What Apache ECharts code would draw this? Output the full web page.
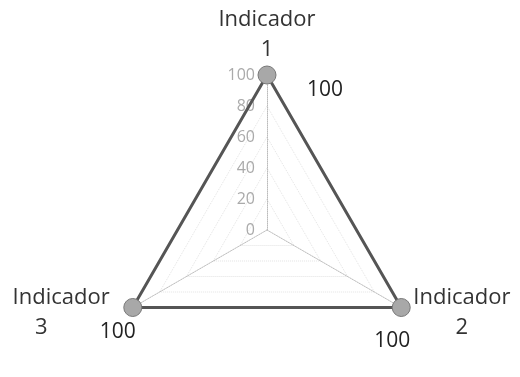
<!DOCTYPE html>
<html>
<head>
<meta charset="UTF-8">
<script src="https://cdn.jsdelivr.net/npm/echarts@6/dist/echarts.min.js"></script>
<style>
  body { margin: 0; background: #fff; }
  #chart { width: 520px; height: 377px; }
</style>
</head>
<body>
<div id="chart"></div>
<script>
  // indicators listed counterclockwise from the top, as the radar lays them out
  const indicators = ['Indicador 1', 'Indicador 3', 'Indicador 2'];
  const maxValue = 100;
  const values = [100, 100, 100];

  const chart = echarts.init(document.getElementById('chart'));
  const font = '"Open Sans", "Noto Sans", sans-serif';

  chart.setOption({
    animation: false,
    radar: {
      center: [267, 230],
      radius: 155,
      startAngle: 90,
      splitNumber: 5,
      shape: 'polygon',
      indicator: indicators.map((name, i) => ({
        name: name,
        min: 0,
        max: maxValue,
        axisLabel: { show: i === 0 }
      })),
      axisName: {
        color: '#333',
        fontFamily: font,
        fontSize: 22,
        formatter: function (name) {
          const parts = name.split(' ');
          const numStyle = parts[1] === '3' ? 'l' : 'n';
          return '{n|' + parts[0] + '}\n{' + numStyle + '|' + parts[1] + '}';
        },
        rich: {
          n: { width: 104, align: 'center', fontSize: 22, lineHeight: 30, color: '#333', fontFamily: font },
          l: { width: 89, align: 'left', padding: [0, 0, 0, 37], fontSize: 22, lineHeight: 30, color: '#333', fontFamily: font }
        }
      },
      nameGap: 10,
      axisLine: { lineStyle: { color: '#bbb', type: 'dotted', width: 1 } },
      splitLine: { lineStyle: { color: '#e2e2e2', type: 'dotted', width: 1 } },
      splitArea: { show: false },
      axisTick: { show: false },
      axisLabel: {
        show: false,
        color: '#aaa',
        fontFamily: font,
        fontSize: 16,
        margin: 12
      }
    },
    series: [{
      type: 'radar',
      symbol: 'circle',
      symbolSize: 18,
      itemStyle: { color: '#a8a8a8', borderColor: '#777', borderWidth: 1 },
      lineStyle: { color: '#555', width: 3 },
      label: {
        show: true,
        position: 'inside',
        color: '#222',
        fontFamily: font,
        fontSize: 21
      },
      labelLayout: function (params) {
        const r = params.rect;
        const x = r.x + r.width / 2;
        const y = r.y + r.height / 2;
        if (y < 200) return { dx: 58, dy: 15 };
        if (x < 267) return { dx: -15, dy: 25 };
        return { dx: -9, dy: 34 };
      },
      data: [{ value: values, name: 'Série' }]
    }]
  });
</script>
</body>
</html>
